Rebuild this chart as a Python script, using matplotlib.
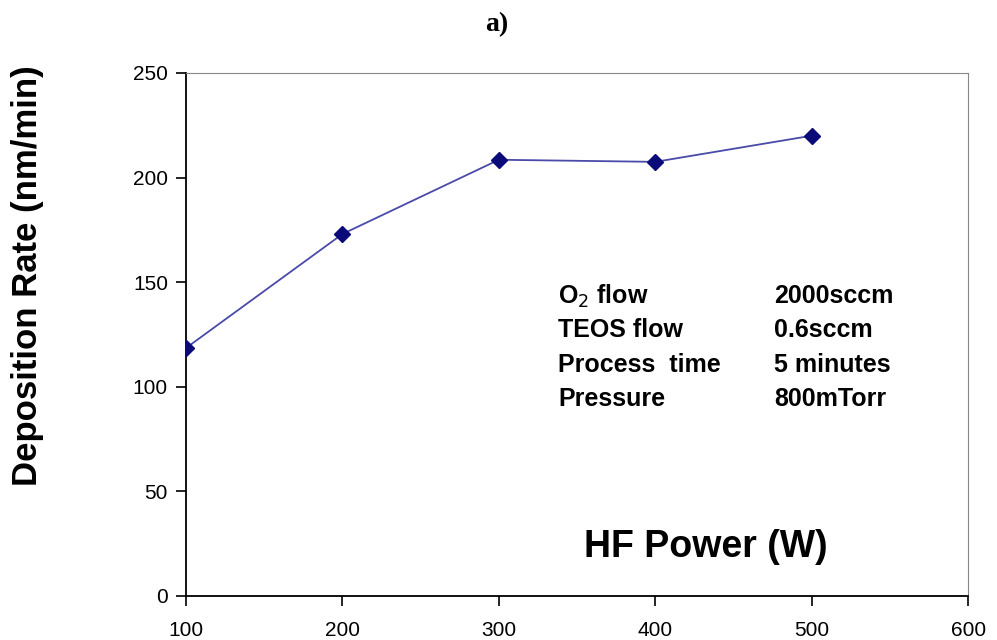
"""Deposition rate vs HF power chart."""
import matplotlib

matplotlib.use("Agg")
import matplotlib.pyplot as plt

power = [100, 200, 300, 400, 500]
rate = [118.5, 173, 208.5, 207.5, 220]

x_ticks = [100, 200, 300, 400, 500, 600]
y_ticks = [0, 50, 100, 150, 200, 250]

cond_names = ["O$_2$ flow", "TEOS flow", "Process  time", "Pressure"]
cond_values = ["2000sccm", "0.6sccm", "5 minutes", "800mTorr"]

sans = ["Liberation Sans", "DejaVu Sans"]

fig = plt.figure(figsize=(9.97, 6.4), dpi=100)
ax = fig.add_axes([0.1866, 0.069, 0.7844, 0.817])

ax.plot(power, rate, color="#4a4aaa", linewidth=1.3, zorder=2)
ax.plot(power, rate, linestyle="none", marker="D", markersize=8,
        color="#0a0a78", zorder=3)

ax.set_xlim(100, 600)
ax.set_ylim(0, 250)
ax.set_xticks(x_ticks)
ax.set_yticks(y_ticks)
for lab in ax.get_xticklabels() + ax.get_yticklabels():
    lab.set_fontfamily(sans)
    lab.set_fontsize(15)
ax.tick_params(axis="both", direction="out", length=7, width=1.2)
ax.tick_params(axis="x", pad=11)
ax.tick_params(axis="y", pad=6)

ax.spines["top"].set_color("#888888")
ax.spines["right"].set_color("#888888")
ax.spines["left"].set_linewidth(1.3)
ax.spines["bottom"].set_linewidth(1.3)

fig.text(0.028, 0.57, "Deposition Rate (nm/min)", fontsize=25,
         fontweight="bold", rotation=90, ha="center", va="center",
         family=sans)

ax.text(0.665, 0.094, "HF Power (W)", transform=ax.transAxes, fontsize=27,
        fontweight="bold", ha="center", va="center", family=sans)

row_y = [0.573, 0.509, 0.441, 0.377]
for name, val, yy in zip(cond_names, cond_values, row_y):
    ax.text(0.476, yy, name, transform=ax.transAxes, fontsize=18,
            fontweight="bold", va="center", family=sans)
    ax.text(0.752, yy, val, transform=ax.transAxes, fontsize=18,
            fontweight="bold", va="center", family=sans)

fig.text(0.4985, 0.962, "a)", fontsize=20, fontweight="bold", ha="center",
         va="center", family=["Liberation Serif", "DejaVu Serif"])

plt.savefig("out.png", dpi=100)
